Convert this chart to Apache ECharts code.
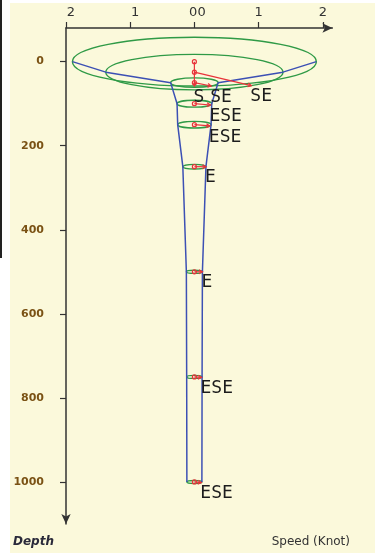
<!DOCTYPE html>
<html>
<head>
<meta charset="utf-8">
<script src="https://cdn.jsdelivr.net/npm/echarts@6.0.0/dist/echarts.min.js"></script>
<style>
  html, body { margin: 0; padding: 0; background: #fff; }
  #chart { width: 375px; height: 557px; }
</style>
</head>
<body>
<div id="chart"></div>
<script>
// current profile: speed (knot) and direction per depth
const depths = [0, 25, 50, 100, 150, 250, 500, 750, 1000]
const speeds = [1.9, 1.38, 0.37, 0.27, 0.26, 0.18, 0.125, 0.12, 0.117]
const bearings = [180, 140, 135, 112.5, 112.5, 90, 90, 112.5, 112.5]
const directions = ['S', 'SE', 'SE', 'ESE', 'ESE', 'E', 'E', 'ESE', 'ESE']

const speedTicks = [-2, -1, 0, 1, 2]
const depthTicks = [0, 200, 400, 600, 800, 1000]

const TILT = 0.2 // ellipse flattening for the perspective view

const chart = echarts.init(document.getElementById('chart'))

const levels = depths.map((d, i) => [speeds[i], d])

function ellipseItem (params, api) {
  const c = api.coord([0, api.value(1)])
  const e = api.coord([api.value(0), api.value(1)])
  const rx = e[0] - c[0]
  return {
    type: 'ellipse',
    shape: { cx: c[0], cy: c[1], rx: rx, ry: rx * TILT },
    style: { fill: 'none', stroke: '#2f9a46', lineWidth: 1.4 }
  }
}

function vectorItem (params, api) {
  const i = params.dataIndex
  const d = api.value(1)
  const s = api.value(0)
  const th = bearings[i] * Math.PI / 180
  const c = api.coord([0, d])
  const ex = api.coord([s * Math.sin(th), d])[0]
  const ey = c[1] - (api.coord([s * Math.cos(th), d])[0] - c[0]) * TILT
  const a = Math.atan2(ey - c[1], ex - c[0])
  const h = 4
  const red = { stroke: '#e8333a', lineWidth: 1.2, fill: 'none' }
  return {
    type: 'group',
    children: [
      { type: 'line', shape: { x1: c[0], y1: c[1], x2: ex, y2: ey }, style: red },
      { type: 'circle', shape: { cx: c[0], cy: c[1], r: 2 }, style: red },
      { type: 'polyline', shape: { points: [
        [ex - h * Math.cos(a - 0.5), ey - h * Math.sin(a - 0.5)],
        [ex, ey],
        [ex - h * Math.cos(a + 0.5), ey - h * Math.sin(a + 0.5)]
      ] }, style: red },
      { type: 'text', z2: 10, style: {
        text: directions[i], x: ex - 1, y: ey + 2,
        font: '18px "DejaVu Sans Mono"', fill: '#1c1c1c',
        align: 'left', verticalAlign: 'top'
      } }
    ]
  }
}

const option = {
  backgroundColor: '#ffffff',
  animation: false,
  graphic: [
    { type: 'rect', z: -10, shape: { x: 10, y: 3, width: 365, height: 550 }, style: { fill: '#fbf9db' } },
    { type: 'rect', z: -10, shape: { x: 0, y: 0, width: 2, height: 258 }, style: { fill: '#222' } },
    { type: 'text', x: 13, y: 542, style: { text: 'Depth', font: 'italic bold 12px "DejaVu Sans"', fill: '#2a2a3a', verticalAlign: 'middle' } },
    { type: 'text', x: 350, y: 542, style: { text: 'Speed (Knot)', font: '12px "DejaVu Sans"', fill: '#333', align: 'right', verticalAlign: 'middle' } }
  ],
  grid: { left: 66, top: 28, width: 266.4, height: 496, outerBoundsMode: 'none' },
  xAxis: {
    type: 'value',
    position: 'top',
    min: -2,
    max: 2.15,
    axisLine: { show: true, onZero: false, symbol: ['none', 'arrow'], symbolSize: [7, 10], lineStyle: { color: '#333', width: 1.5 } },
    axisTick: { show: true, customValues: speedTicks, length: 6, lineStyle: { color: '#333', width: 1.2 } },
    axisLabel: {
      customValues: speedTicks,
      margin: 9,
      color: '#333',
      fontSize: 13,
      fontFamily: 'DejaVu Sans',
      formatter: (v) => v === 0 ? '{z|00}' : v < 0 ? '{l|' + (-v) + '}' : String(v),
      rich: {
        l: { padding: [0, 0, 0, 10], fontSize: 13, color: '#333', fontFamily: 'DejaVu Sans' },
        z: { padding: [0, 0, 0, 6], fontSize: 13, color: '#333', fontFamily: 'DejaVu Sans' }
      }
    },
    splitLine: { show: false }
  },
  yAxis: {
    type: 'value',
    inverse: true,
    min: -80,
    max: 1100,
    axisLine: { show: true, onZero: false, symbol: ['arrow', 'none'], symbolSize: [7, 10], lineStyle: { color: '#333', width: 1.5 } },
    axisTick: { show: true, customValues: depthTicks, length: 6, lineStyle: { color: '#333', width: 1.2 } },
    axisLabel: {
      customValues: depthTicks,
      margin: 22,
      padding: [7, 0, 0, 0],
      color: '#7a5214',
      fontSize: 11,
      fontWeight: 'bold',
      fontFamily: 'DejaVu Sans',
      formatter: (v) => String(v)
    },
    splitLine: { show: false }
  },
  series: [
    { type: 'custom', name: 'rings', renderItem: ellipseItem, data: levels, clip: false, silent: true, z: 2 },
    { type: 'line', name: 'left', data: depths.map((d, i) => [-speeds[i], d]), symbol: 'none', lineStyle: { color: '#3c50b4', width: 1.5 }, silent: true, z: 3 },
    { type: 'line', name: 'right', data: depths.map((d, i) => [speeds[i], d]), symbol: 'none', lineStyle: { color: '#3c50b4', width: 1.5 }, silent: true, z: 3 },
    { type: 'custom', name: 'vectors', renderItem: vectorItem, data: levels, clip: false, silent: true, z: 4 }
  ]
}

chart.setOption(option)
</script>
</body>
</html>
